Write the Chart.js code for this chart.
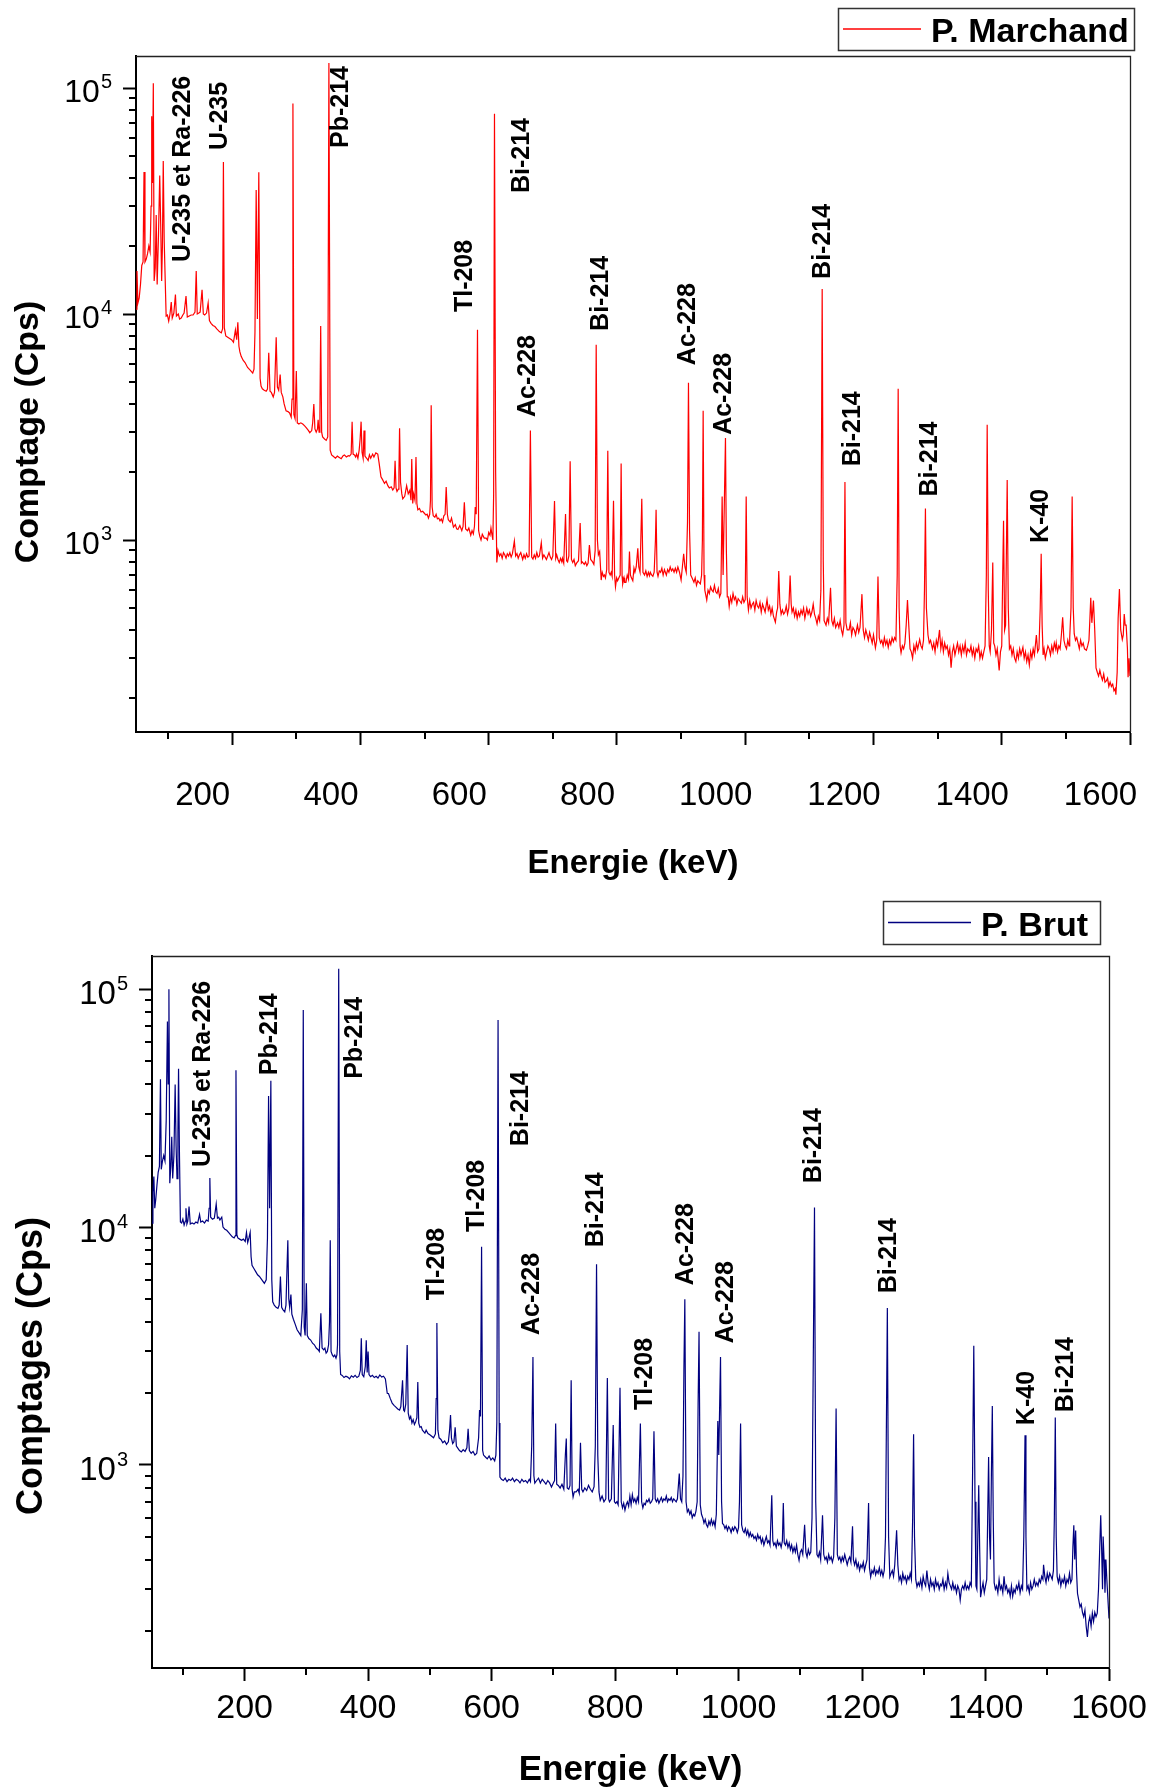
<!DOCTYPE html>
<html lang="fr">
<head>
<meta charset="utf-8">
<title>Spectres gamma</title>
<script src="https://cdn.jsdelivr.net/npm/chart.js@4.4.0/dist/chart.umd.min.js"></script>
<style>
  html, body { margin: 0; padding: 0; background: #fff; }
  #page { position: relative; width: 1153px; height: 1791px; }
  canvas { position: absolute; left: 0; }
  #graphHaut { top: 0; }
  #graphBas { top: 895px; }
</style>
</head>
<body>
<div id="page">
  <canvas id="graphHaut" width="1153" height="895"></canvas>
  <canvas id="graphBas" width="1153" height="896"></canvas>
</div>
<script>
// graduations
const xMajeurs = [200, 400, 600, 800, 1000, 1200, 1400, 1600];
const xMineurs = [100, 300, 500, 700, 900, 1100, 1300, 1500];
const yMajeurs = [1000, 10000, 100000];
const yMineurs = [200, 300, 400, 500, 600, 700, 800, 900,
  2000, 3000, 4000, 5000, 6000, 7000, 8000, 9000,
  20000, 30000, 40000, 50000, 60000, 70000, 80000, 90000];

// P. Marchand : [énergie keV, comptage]
const marchandBas = [
  [50,10500],[51.5,15500],[53,11200],[55,11800],[57,13500],[59,16400],[61,17000],[62.5,42500],[64,17000],[66,17500],
  [68,18500],[70,20000],[72,18800],[73.5,30000],[74.5,75000],[75.7,38000],[77,105000],[78.3,14000],[80,16000],[81.5,27400],
  [83,13500],[85,22000],[87,41000],[88.5,25000],[90,14000],[91.2,20000],[92.5,47500],[94,21000],[95.5,14300],[97,9800],
  [99,9900],[101,9300],[103,10000],[105,11300],[106.5,9600],[109,10100],[111.5,12200],[113,9800],[116,10000],[118,9500],
  [120.5,9600],[123,9900],[125,10100],[128,12000],[130,9700],[133,9800],[136,9900],[139,9900],[142,10200],[143.9,15500],
  [145.5,10000],[148,10100],[150,10200],[153,12800],[155,10000],[157,9900],[160,10100],[162.5,11200],[164.5,9350],[167,9100],
  [170,8900],[173,8800],[176,8600],[180,8360],[183,8250],[185,8600],[186.3,47100],[187.7,8700],[190,8000],[193,7900],
  [196,7800],[199,7700],[202,7500],[205,8500],[207,7700],[208.8,9200],[210.5,7200],[212,6800],[214,6500],[217,6250],
  [220,6100],[224,5800],[228,5650],[232,5480],[234,5700],[235.5,8300],[237.4,35400],[239.3,9500],[241.5,42400],[243.5,5200],
  [245,4800],[247,4670],[250,4600],[253,4550],[255,4650],[257,6740],[259,4550],[261,4500],[264,4300],[266,4500],
  [268.6,7900],[270.5,4750],[272.5,4600],[274.8,5400],[276.5,4500],[279,4300],[281,4000],[284,3730],[287,3700],[289.5,3650],
  [292,3500],[293.3,4200],[294.7,85400],[296.2,3600],[298,3450],[300,5600],[301.5,3300]
];
const marchandMilieu = [
  [304,3260],[307,3300],[310,3260],[313,3200],[316,3130],[319,3050],[321,2985],[324,3050],[325.5,3300],[327.3,4000],
  [329,3100],[331,3000],[333,3100],[334,3400],[335.5,3000],[336.8,3600],[338,8860],[339.5,3000],[341,2860],[344,2800],
  [346.6,2760],[349,2860],[350.8,129000],[352.8,2500],[355,2380],[358,2340],[361,2300],[364,2350],[367,2320],[370,2290],
  [373,2360],[375,2380],[378,2330],[381,2360],[383,2350],[385.5,2400],[387,3340],[388.5,2400],[390.7,2380],[392.5,2330],
  [394,2400],[396,2300],[398,2500],[399.5,2800],[401,3340],[402.5,2450],[404.2,2300],[405.6,3050],[407,2350],[409.7,2300],
  [412,2250],[414,2380],[416,2300],[419,2400],[421,2330],[424,2430],[427,2400],[429,2200],[432,1906],[434.5,1850],
  [437.5,1780],[440,1820],[442.7,1740],[445,1700],[448,1720],[450.4,1664],[452.5,1700],[454,2240],[455.5,1700],[457,1640],
  [459,1680],[460,2000],[461,3125],[462.5,1800],[464.5,1600],[466,1520],[469,1560],[472,1740],[474.5,1600],[477,1660],
  [478.8,1500],[480,2280],[481.5,1450],[483,1600],[485,1500],[486.6,2330],[488,1450],[489.5,1360],[492,1380],[494.5,1330],
  [497,1340],[500,1310],[502,1290],[504,1300],[506,1250],[508,1300],[509.2,1500],[510.3,3950],[511.8,1400],[513.5,1280],
  [516,1260],[518,1300],[520,1240],[522,1250],[524,1217],[526,1240],[528,1200],[530,1280],[532,1300],[533.7,1717],
  [535.5,1300],[537,1230],[540,1200],[542,1250],[545,1140],[548,1170],[550,1120],[552,1113],[555,1160],[558,1100],
  [560,1150],[562,1470],[564,1120],[567,1100],[569,1130],[572,1050],[574,1100],[576,1063],[577.8,1150],[579,1400],
  [580.5,1300],[582.5,8510],[584.3,1100],[586,1040],[588,1000],[590,1060],[593,1020],[596,1020],[598,1000],[600,1080],
  [602,1050],[603.5,1130],[605,1060],[606.5,1000],[607.7,1600],[609,76900],[610.8,2000],[612.6,795],[614.5,900],[616.8,850],
  [619,870],[621,830],[623,880],[625,860],[627,832],[629,870],[631,850],[633,880],[635,840],[637,870],
  [640,990],[642,850],[644,870],[646,830],[648,860],[650,880],[653,820],[655,860],[657,830],[659,870],
  [661,840],[663,850],[665,3050],[667,840],[669,823],[671,860],[673,830],[675,880],[677,840],[679,850],
  [682,973],[684,830],[686,860],[688,840],[690,820],[692,850],[694,880],[696,840],[698,820],[700,850],
  [702.6,1489],[704.5,830],[706,860],[708,820],[710,795],[712,830],[714,800],[715,830],[717,790],[719.8,1303],
  [721.5,810],[723,800],[725,850],[727,2230],[729,820],[731,795],[733,820],[735,770],[737,790],[740,810],
  [742.6,1188],[744.5,790],[746,800],[749,780],[751,800],[753,770],[755,790],[757,950],[759,820],[762,800],
  [764,780],[766,900],[767.6,7310],[769.5,1000],[771,860],[773,889],[775.4,665],[777,720],[779,690],[780.5,700],
  [782,680],[784,740],[785.7,2480],[787.5,720],[789.4,700],[791,720],[792.5,690],[794.6,1490],[796.3,700],[797.7,621],
  [799.5,680]
];
const marchandHaut = [
  [801,660],[803,680],[805,700],[806.5,2180],[808,690],[809,640],[811,680],[812,650],[814,650],[816,700],
  [818,670],[819.5,889],[821,700],[822.5,680],[824.7,660],[826.5,750],[828,720],[830,760],[832.5,920],[834,760],
  [836,720],[838.7,1524],[840.5,720],[843,700],[845,730],[847,690],[849,720],[850.7,695],[852,720],[854,700],
  [856,690],[858,720],[860,1000],[861,1362],[862.5,720],[864,690],[866,730],[868,720],[870,750],[872,700],
  [874,740],[877,700],[879,740],[881,720],[883,760],[885,730],[887,745],[889,720],[891,750],[893,720],
  [895,760],[897.5,720],[900,665],[902,760],[904,869],[906,760],[908,720],[910,1200],[911.5,4960],[913.2,1100],
  [915,700],[917,680],[920,650],[922,680],[924,630],[926,660],[928,650],[930,640],[932,700],[933.2,1000],
  [934.4,3730],[935.8,700],[937,600],[940,543],[942,600],[944,580],[946,620],[948,600],[950,590],[952,630],
  [954,590],[956,580],[958,610],[960,560],[962,580],[964,1557],[965.5,700],[967.5,1500],[969.2,2825],[970.6,900],
  [972,560],[973.5,560],[975,508],[977,560],[979,530],[981,580],[983,545],[985,560],[987,520],[989,550],
  [991,540],[994,525],[996,560],[998,530],[1000,545],[1001.5,1557],[1003,560],[1005,490],[1007,540],[1009,500],
  [1011,520],[1013,530],[1015,490],[1017,540],[1019,510],[1021,500],[1023,530],[1025,480],[1027,520],[1029,500],
  [1031,480],[1034,545],[1036,490],[1038,510],[1040,470],[1042,500],[1044,460],[1047,433],[1049,480],[1050.5,500],
  [1052.3,730],[1054,520],[1056,470],[1058,490],[1060,470],[1062,480],[1064,510],[1066,470],[1068,500],[1070,697],
  [1071.7,520],[1073,480],[1075,500],[1077,460],[1079,490],[1081,450],[1083,480],[1085,460],[1087,490],[1089,470],
  [1091,500],[1093,450],[1096,500],[1098,470],[1100,490],[1102,460],[1104,480],[1106,520],[1108,470],[1110,450],
  [1112,425],[1114,460],[1116,440],[1118,600],[1120,12900],[1121.7,800],[1123,440],[1126,420],[1128,450],[1130,430],
  [1133,615],[1135,440],[1137,420],[1139,450],[1141,410],[1144,430],[1146,410],[1148,440],[1150,400],[1152,380],
  [1154,420],[1155.5,1807],[1157,430],[1159,400],[1162,400],[1164,430],[1166,380],[1168,410],[1170,400],[1172,380],
  [1175,420],[1177,390],[1179,410],[1182,576],[1184,400],[1186,370],[1188,400],[1190,380],[1192,360],[1194,390],
  [1196,370],[1198,350],[1200,380],[1203,333],[1205,360],[1207,689],[1209,370],[1211,350],[1213,360],[1215,340],
  [1217,370],[1219,345],[1221,360],[1223,335],[1225,360],[1227,345],[1229,370],[1231,355],[1233,370],[1235,360],
  [1237,700],[1238.5,4670],[1240,500],[1241.5,340],[1243,317],[1245,340],[1247,330],[1249,350],[1251,420],[1253,543],
  [1255,420],[1257,330],[1259,320],[1261,300],[1263,340],[1265,320],[1267,350],[1269,330],[1272,363],[1274,340],
  [1276,330],[1278,360],[1279.5,600],[1281,1379],[1282.5,500],[1285,380],[1287,350],[1289,360],[1292,330],[1294,350],
  [1296,320],[1298,360],[1300,340],[1303,400],[1305,330],[1307,360],[1309,320],[1311,350],[1313,330],[1315,340],
  [1317,310],[1319,330],[1321,272],[1323,320],[1325,340],[1327,310],[1329,330],[1331,350],[1333,320],[1335,340],
  [1337,310],[1339,340],[1341,320],[1343,350],[1345,310],[1347,330],[1350,320],[1352,340],[1354,310],[1356,330],
  [1358,300],[1360,330],[1362,320],[1364,340],[1366,300],[1368,320],[1370,300],[1372,320],[1374,340],[1376,700],
  [1377.3,3235],[1379,600],[1380.5,340],[1382,320],[1384,400],[1386,795],[1387.5,350],[1389,340],[1391,310],[1393,330],
  [1396,265],[1398,320],[1400,340],[1401.5,700],[1402.8,1217],[1404.5,400],[1406,420],[1408.5,1842],[1410.2,500],[1412,330],
  [1414,340],[1416,310],[1418,330],[1420,300],[1422,290],[1424,320],[1426,300],[1428,330],[1430,310],[1433,335],
  [1435,300],[1437,320],[1439,290],[1441,310],[1443,280],[1445,320],[1447,300],[1449,330],[1451,310],[1454,380],
  [1456,320],[1458,330],[1460,500],[1461.5,869],[1463,420],[1464.5,310],[1466,330],[1468,300],[1470,320],[1472,340],
  [1474,330],[1476,310],[1478,340],[1480,320],[1482,350],[1484,330],[1485,350],[1487,320],[1489,340],[1491,330],
  [1493,380],[1495,455],[1497,360],[1499,340],[1501,330],[1503,360],[1505,340],[1506,370],[1508,500],[1509.8,1557],
  [1511.5,500],[1513,385],[1515,360],[1517,370],[1519,350],[1521,330],[1523,360],[1525,340],[1527,350],[1529,330],
  [1532,325],[1534,340],[1536,360],[1537.5,450],[1538.8,555],[1540.5,430],[1543,540],[1545,400],[1547,272],[1549,260],
  [1551,250],[1553,265],[1555,250],[1557,240],[1559,255],[1561,235],[1563,238],[1565,245],[1567,225],[1569,235],
  [1571,225],[1573,230],[1575,215],[1577,220],[1578,207],[1580,260],[1581.5,450],[1583.5,607],[1585.5,400],[1588,363],
  [1589.5,380],[1591,470],[1592.5,420],[1594,420],[1596,330],[1597,247],[1598.5,300],[1600,250]
];

// P. Brut : [énergie keV, comptage]
const brutBas = [
  [50,10400],[51.5,14000],[53,16300],[54.5,12000],[56,13000],[58,15000],[60,17000],[62,18000],[63.7,41800],[65,17500],
  [67,19000],[69,20000],[71,19000],[73,28000],[75,73100],[76.2,40000],[77.4,100000],[78.8,15300],[80.5,18000],[82,24000],
  [83.5,16000],[85.5,20000],[87.5,39800],[89,22000],[90.5,16000],[92,25000],[93,46300],[94.5,20000],[96,10500],[98,10400],
  [100,10800],[102,10200],[104,10600],[105,12000],[106.5,10300],[108,10600],[110,12200],[112,10300],[115,10400],[118,10300],
  [121,10500],[124,10400],[127,11300],[129,10500],[132,10600],[135,10400],[138,10700],[141,10600],[142.5,12000],[143.7,16100],
  [145,11000],[148,10800],[151,10900],[154,12500],[156,10900],[158,11000],[160,10700],[163,11000],[165,10000],[168,9800],
  [171,9700],[174,9500],[177,9300],[180,9100],[183,9000],[185,9200],[186,45700],[187.5,9300],[189,9000],[192,8900],
  [195,8800],[198,8900],[201,8700],[203,9500],[205,8600],[207,9000],[209,9500],[210.5,7500],[212,6900],[215,6700],
  [218,6500],[221,6300],[224,6200],[228,6000],[232,5800],[235,6000],[237,9000],[238.8,35600],[240.5,12000],[242.5,41200],
  [244,6000],[245.5,4850],[248,4700],[251,4600],[254,4550],[256,4700],[258,6200],[260,4600],[262,4500],[265,4400],
  [267,4700],[268.5,6500],[270,8800],[271.5,5000],[273,4600],[275,5200],[276.5,4300],[279,4100],[282,3900],[285,3700],
  [288,3600],[291,3500],[293.5,4500],[295,81900],[296.5,3800],[298,3500],[300,5800],[301.5,3500]
];
const brutMilieu = [
  [304,3400],[307,3350],[310,3250],[313,3200],[316,3100],[319,3050],[321,3000],[323.5,4340],[325.5,3100],[328,3050],
  [330,3100],[332,2950],[334,3000],[336,3200],[337.5,4000],[338.7,8800],[340,3000],[342,2900],[344,2850],[346,2900],
  [348,2810],[349.5,2900],[350.5,3200],[352.4,122000],[354,3000],[355.5,2400],[358,2380],[361,2330],[364,2360],[367,2340],
  [370,2300],[373,2370],[376,2340],[379,2380],[382,2330],[385,2360],[387.5,2500],[389,3410],[390.5,2400],[393,2350],
  [395.5,2600],[397,3340],[398.5,2450],[400,3000],[401.5,2400],[404,2350],[407,2380],[410,2330],[413,2360],[416,2320],
  [419,2390],[422,2340],[425,2360],[428,2300],[431,2000],[433,1995],[436,1900],[439,1820],[442,1780],[445,1750],
  [448,1720],[451,1700],[453,1760],[455.8,2270],[457.5,1700],[459,1680],[461,1800],[463.3,3190],[465,1650],[467,1560],
  [469,1600],[471,1500],[473,1550],[475,1480],[477,1520],[479,1580],[480.5,2230],[482,1500],[484,1440],[486,1450],
  [488,1400],[490,1380],[492,1360],[494,1400],[497,1355],[500,1340],[503,1320],[506,1300],[509,1350],[510.3,1900],
  [511.4,3950],[513,1400],[515,1300],[518,1280],[521,1240],[524,1260],[527,1220],[530,1250],[532,1400],[533.5,1620],
  [535,1300],[537,1230],[539,1250],[541,1440],[543,1200],[545,1180],[548,1150],[551,1134],[554,1160],[557,1140],
  [560,1180],[562,1420],[564,1150],[567,1120],[570,1140],[573,1100],[576,1120],[579,1300],[580.5,1700],[582,1600],
  [583.8,8260],[585.5,1150],[587,1100],[590,1080],[593,1060],[596,1090],[599,1050],[602,1070],[605,1040],[607,1100],
  [608.5,1500],[610.5,74300],[612.3,1500],[613.5,890],[616,870],[619,860],[622,880],[625,850],[628,870],[631,860],
  [634,880],[637,850],[640,870],[643,860],[646,840],[649,870],[652,850],[655,860],[658,840],[661,870],
  [663,850],[665,1200],[667,2845],[668.5,900],[670,838],[673,860],[676,880],[679,840],[682,870],[685,850],
  [688,830],[691,860],[694,840],[697,808],[700,840],[702,860],[703.8,1494],[705.5,830],[708,820],[711,800],
  [714,830],[717,790],[719.5,1100],[721,1290],[722.5,800],[725,790],[727,820],[728.9,2270],[730.5,790],[732,733],
  [734,770],[737,770],[740,790],[742,760],[744,1240],[746,790],[748,770],[751,800],[754,780],[757,820],
  [760,790],[763,770],[766,810],[768,1200],[770,6980],[772,1100],[774,770],[776,710],[779,740],[782,700],
  [785,720],[787.5,2320],[789.5,720],[791,700],[794,720],[797,1470],[799,700]
];
const brutHaut = [
  [801,690],[803,700],[805,680],[808,2110],[810,700],[812,660],[814,690],[816,645],[818,680],[820,700],
  [822,670],[824,740],[826,680],[828,750],[830,700],[832,720],[834,690],[836,730],[838,700],[841,1494],
  [843,700],[845,660],[847,690],[849,680],[851,710],[853,700],[855,720],[857,690],[859,700],[861,720],
  [863,1386],[865,720],[867,700],[869,720],[871,690],[873,710],[875,730],[877,700],[879,720],[881,710],
  [883,740],[885,700],[887,720],[889,710],[891,730],[893,700],[895,720],[897,710],[899,700],[901,720],
  [904,920],[906,720],[908,700],[910,900],[911.5,2500],[913,4970],[915,700],[917,634],[919,650],[921,620],
  [923,640],[925,600],[927,620],[929,610],[931,640],[933,700],[934.5,1800],[936,3630],[938,680],[940,620],
  [942,600],[944,570],[946,590],[948,560],[950,548],[952,580],[954,560],[956,590],[958,560],[960,580],
  [962,550],[964,620],[966.4,1530],[968,1100],[970.8,2845],[972.5,700],[974,567],[976,560],[978,540],[980,555],
  [982,530],[984,550],[986,540],[988,520],[990,545],[992,530],[994,550],[996,540],[998,520],[1000,545],
  [1001.5,700],[1003.3,1494],[1005,560],[1007,530],[1009,520],[1011,540],[1013,510],[1015,530],[1017,500],[1019,520],
  [1021,500],[1023,510],[1025,490],[1027,500],[1029,482],[1031,510],[1033,490],[1035,500],[1037,470],[1039,490],
  [1041,460],[1043,480],[1045,500],[1047,470],[1049,480],[1051,460],[1053.8,746],[1055.5,480],[1057,460],[1059,470],
  [1061,450],[1063,480],[1065,460],[1067,470],[1069,450],[1071,480],[1072.5,692],[1074,470],[1076,460],[1078,480],
  [1080,450],[1082,470],[1084,440],[1086,460],[1088,430],[1090,450],[1092,430],[1094,460],[1096,420],[1098,397],
  [1100,430],[1102,440],[1104,420],[1107,560],[1109,430],[1111,410],[1113,440],[1115,420],[1117,430],[1119,600],
  [1123,12100],[1125,700],[1127,420],[1129,410],[1131,430],[1133,400],[1136,614],[1138,420],[1140,400],[1142,410],
  [1144,390],[1146,420],[1148,400],[1150,410],[1152,390],[1154,410],[1156,600],[1158,1727],[1160,420],[1162,400],
  [1164,410],[1166,390],[1168,410],[1170,395],[1172,420],[1174,400],[1176,380],[1178,400],[1180,410],[1182,390],
  [1184.6,552],[1186,400],[1188,380],[1190,400],[1192,370],[1194,386],[1196,360],[1198,380],[1200,370],[1202,390],
  [1204,360],[1206,380],[1208,400],[1210.6,692],[1212,370],[1214,338],[1216,360],[1218,350],[1220,370],[1222,345],
  [1224,360],[1226,350],[1228,370],[1230,345],[1232,360],[1234,340],[1236,360],[1238,500],[1241,4570],[1243,500],
  [1245,338],[1247,350],[1249,360],[1251,340],[1253,380],[1256,531],[1258,380],[1260,328],[1262,340],[1264,320],
  [1266,350],[1268,330],[1270,340],[1272,320],[1274,340],[1276,330],[1278,350],[1280,330],[1282,600],[1283.5,1346],
  [1285,500],[1287,330],[1289,307],[1291,320],[1293,310],[1295,330],[1297,305],[1299,340],[1301,320],[1303,310],
  [1305,360],[1307,320],[1309,300],[1311,330],[1313,310],[1315,320],[1317,300],[1319,330],[1321,310],[1323,320],
  [1325,300],[1327,315],[1329,310],[1331,330],[1333,300],[1335,320],[1337,305],[1339,350],[1341,320],[1343,310],
  [1345,300],[1347,320],[1349,300],[1351,310],[1353,290],[1355,310],[1357,300],[1359,270],[1361,300],[1363,310],
  [1365,300],[1367,320],[1369,300],[1371,310],[1373,300],[1375,320],[1377,310],[1379,900],[1381,3170],[1383,700],
  [1384.5,310],[1386,300],[1387.5,500],[1389,822],[1390.5,450],[1392,278],[1394,300],[1396,320],[1398,290],[1400,310],
  [1402,330],[1403.5,600],[1405,1080],[1406.5,500],[1408,400],[1409.5,900],[1411,1771],[1412.5,600],[1414,320],[1416,300],
  [1418,310],[1420,290],[1422,330],[1424,300],[1426,310],[1428,290],[1430,340],[1432,300],[1434,310],[1436,290],
  [1438,300],[1440,280],[1442,310],[1444,280],[1446,300],[1448,290],[1450,310],[1452,300],[1454,320],[1456,290],
  [1458,310],[1460,300],[1462,500],[1464,1333],[1465.5,500],[1467,300],[1469,310],[1471,290],[1473,320],[1475,300],
  [1477,310],[1479,330],[1481,310],[1483,320],[1485,310],[1487,330],[1489,320],[1491,340],[1493,330],[1494,380],
  [1496,340],[1498,320],[1500,350],[1502,330],[1504,350],[1506,340],[1508,330],[1510,360],[1511.5,600],[1513,1582],
  [1514.5,500],[1516,340],[1518,320],[1520,340],[1522,310],[1524,330],[1526,320],[1528,340],[1530,310],[1532,330],
  [1534,320],[1536,350],[1538,320],[1540,330],[1541.5,450],[1543,557],[1544.5,400],[1546,530],[1547.5,350],[1549,288],
  [1551,270],[1553,253],[1555,260],[1557,240],[1559,230],[1561,245],[1563,210],[1565,189],[1567,218],[1569,230],
  [1571,210],[1573,238],[1575,220],[1577,240],[1579,230],[1581,238],[1583,300],[1585,450],[1586.6,614],[1588,450],
  [1589.5,300],[1590.5,500],[1592,400],[1593.5,290],[1595,400],[1596.5,330],[1598,280],[1600,226]
];

// identification des pics : [texte, énergie du centre, comptage au pied du texte]
const etiquettesMarchand = [
  ['U-235 et Ra-226', 123.6, 17000], ['U-235', 181.8, 53200], ['Pb-214', 370, 54300],
  ['Tl-208', 563.8, 10200], ['Bi-214', 651.7, 34300], ['Ac-228', 661, 3500],
  ['Bi-214', 775.4, 8420], ['Ac-228', 910.4, 5940], ['Ac-228', 967.6, 2920],
  ['Bi-214', 1122, 14300], ['Bi-214', 1167.7, 2120], ['Bi-214', 1288.4, 1557], ['K-40', 1461.5, 970]
];
const etiquettesBrut = [
  ['U-235 et Ra-226', 133.2, 17900], ['Pb-214', 241.8, 43500], ['Pb-214', 378.4, 42000],
  ['Tl-208', 512, 4930], ['Tl-208', 575.8, 9530], ['Bi-214', 647.2, 21900], ['Ac-228', 665.5, 3520],
  ['Bi-214', 770, 8220], ['Tl-208', 848, 1700], ['Ac-228', 914.7, 5700], ['Ac-228', 980, 3250],
  ['Bi-214', 1122.4, 15300], ['Bi-214', 1243.5, 5270], ['K-40', 1468, 1470], ['Bi-214', 1530, 1667]
];

const police = '"Liberation Sans", Arial, sans-serif';

const habillage = {
  id: 'habillage',
  afterDraw(chart, args, o) {
    const ctx = chart.ctx, a = chart.chartArea;
    const sx = chart.scales.x, sy = chart.scales.y;
    ctx.save();

    // cadre haut et droit
    ctx.strokeStyle = '#222';
    ctx.lineWidth = 1.3;
    ctx.beginPath();
    ctx.moveTo(a.left, a.top + 0.5);
    ctx.lineTo(a.right + 0.5, a.top + 0.5);
    ctx.lineTo(a.right + 0.5, a.bottom);
    ctx.stroke();

    // graduations mineures
    ctx.strokeStyle = '#000';
    ctx.lineWidth = 2;
    xMineurs.forEach(v => {
      const px = Math.round(sx.getPixelForValue(v));
      ctx.beginPath(); ctx.moveTo(px, a.bottom); ctx.lineTo(px, a.bottom + 7); ctx.stroke();
    });
    yMineurs.forEach(v => {
      if (v < sy.min || v > sy.max) return;
      const py = Math.round(sy.getPixelForValue(v));
      ctx.beginPath(); ctx.moveTo(a.left, py); ctx.lineTo(a.left - 7, py); ctx.stroke();
    });

    // étiquettes de l'axe y : 10 puissance n
    ctx.fillStyle = '#000';
    const droite = a.left - 24;
    yMajeurs.forEach(v => {
      const py = sy.getPixelForValue(v);
      const exp = String(Math.round(Math.log10(v)));
      ctx.font = '20px ' + police;
      ctx.textAlign = 'right';
      ctx.textBaseline = 'alphabetic';
      const we = ctx.measureText(exp).width;
      ctx.fillText(exp, droite, py + o.decalExp);
      ctx.font = o.tailleTicks + 'px ' + police;
      ctx.fillText('10', droite - we - 1, py + o.decalDix);
    });

    // titres des axes
    ctx.font = 'bold ' + o.tailleTitreX + 'px ' + police;
    ctx.textAlign = 'center';
    ctx.fillText(o.titreX, (a.left + a.right) / 2, o.baseTitreX);

    ctx.save();
    ctx.translate(o.baseTitreY, o.centreTitreY);
    ctx.rotate(-Math.PI / 2);
    ctx.font = 'bold ' + o.tailleTitreY + 'px ' + police;
    ctx.fillText(o.titreY, 0, 0);
    ctx.restore();

    // noms des radionucléides
    ctx.font = 'bold 25px ' + police;
    ctx.textAlign = 'left';
    ctx.textBaseline = 'middle';
    o.etiquettes.forEach(([txt, e, c]) => {
      ctx.save();
      ctx.translate(sx.getPixelForValue(e), sy.getPixelForValue(c));
      ctx.rotate(-Math.PI / 2);
      ctx.fillText(txt, 0, 0);
      ctx.restore();
    });

    // légende
    const ds = chart.data.datasets[0];
    const L = o.legende;
    ctx.strokeStyle = '#333';
    ctx.lineWidth = 1.5;
    ctx.strokeRect(L.x + 0.5, L.y + 0.5, L.w, L.h);
    ctx.strokeStyle = ds.borderColor;
    ctx.lineWidth = 1.5;
    ctx.beginPath();
    ctx.moveTo(L.x + 5, L.y + L.h / 2);
    ctx.lineTo(L.x + 5 + L.trait, L.y + L.h / 2);
    ctx.stroke();
    ctx.fillStyle = '#000';
    ctx.font = 'bold 34px ' + police;
    ctx.textBaseline = 'alphabetic';
    ctx.textAlign = 'left';
    ctx.fillText(ds.label, L.x + L.texte, L.y + L.h - 8);

    ctx.restore();
  }
};

function creerGraphe(id, r) {
  const canvas = document.getElementById(id);
  const H = canvas.height;
  const points = r.segments.flat();
  return new Chart(canvas, {
    type: 'line',
    data: {
      datasets: [{
        label: r.nom,
        data: points.map(p => ({ x: p[0], y: p[1] })),
        borderColor: r.couleur,
        borderWidth: 1.2,
        pointRadius: 0,
        tension: 0,
        fill: false
      }]
    },
    options: {
      responsive: false,
      animation: false,
      events: [],
      layout: { padding: { left: 0, top: r.zone.top, right: 1153 - r.zone.right, bottom: 0 } },
      plugins: {
        legend: { display: false },
        tooltip: { enabled: false },
        habillage: r.habillage
      },
      scales: {
        x: {
          type: 'linear', min: 50, max: 1600,
          afterBuildTicks: s => { s.ticks = xMajeurs.map(v => ({ value: v })); },
          afterFit: s => { s.height = H - r.zone.bottom; s.paddingLeft = 0; s.paddingRight = 0; },
          grid: { drawOnChartArea: false, drawTicks: true, tickLength: 13, tickWidth: 2, tickColor: '#000' },
          border: { display: true, color: '#000', width: 2 },
          ticks: {
            autoSkip: false, maxRotation: 0, color: '#000',
            font: { family: police, size: r.tailleTicksX, lineHeight: 1.2 },
            padding: r.paddingTicksX, labelOffset: r.decalTicksX,
            callback: v => String(v)
          }
        },
        y: {
          type: 'logarithmic', min: r.yMin, max: r.yMax,
          afterBuildTicks: s => { s.ticks = yMajeurs.map(v => ({ value: v })); },
          afterFit: s => { s.width = r.zone.left; },
          grid: { drawOnChartArea: false, drawTicks: true, tickLength: 13, tickWidth: 2, tickColor: '#000' },
          border: { display: true, color: '#000', width: 2 },
          ticks: { display: false }
        }
      }
    },
    plugins: [habillage]
  });
}

creerGraphe('graphHaut', {
  nom: 'P. Marchand',
  couleur: '#ff0000',
  segments: [marchandBas, marchandMilieu, marchandHaut],
  yMin: 141.4, yMax: 138600,
  zone: { left: 136, right: 1130, top: 56, bottom: 732 },
  tailleTicksX: 33, paddingTicksX: 31, decalTicksX: -29.5,
  habillage: {
    titreX: 'Energie (keV)', tailleTitreX: 33, baseTitreX: 873,
    titreY: 'Comptage (Cps)', tailleTitreY: 34, baseTitreY: 38, centreTitreY: 432,
    tailleTicks: 32, decalDix: 14, decalExp: 0,
    etiquettes: etiquettesMarchand,
    legende: { x: 838, y: 8, w: 296, h: 42, trait: 78, texte: 93 }
  }
});

creerGraphe('graphBas', {
  nom: 'P. Brut',
  couleur: '#000080',
  segments: [brutBas, brutMilieu, brutHaut],
  yMin: 140, yMax: 138000,
  zone: { left: 152, right: 1109, top: 61, bottom: 773 },
  tailleTicksX: 34, paddingTicksX: 7, decalTicksX: 0,
  habillage: {
    titreX: 'Energie (keV)', tailleTitreX: 35, baseTitreX: 885,
    titreY: 'Comptages (Cps)', tailleTitreY: 36, baseTitreY: 42, centreTitreY: 471,
    tailleTicks: 33, decalDix: 15, decalExp: 1,
    etiquettes: etiquettesBrut,
    legende: { x: 883, y: 6, w: 217, h: 43, trait: 83, texte: 98 }
  }
});
</script>
</body>
</html>
